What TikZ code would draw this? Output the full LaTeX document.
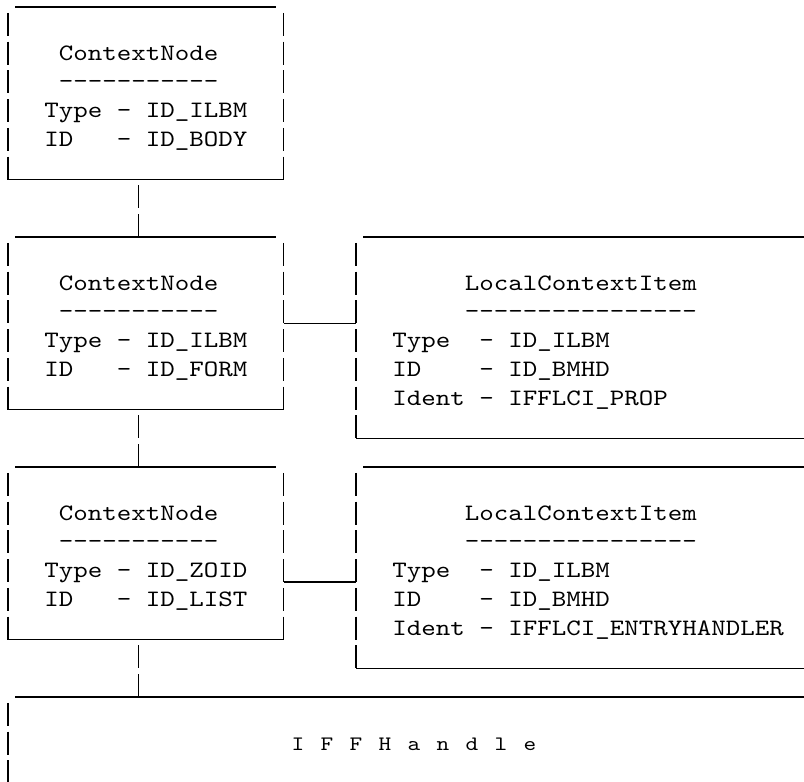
\documentclass[tikz,border=0pt]{standalone}
\usepackage{fontspec}
\setmonofont{lmmono10-regular}[Extension=.otf,FakeStretch=1.1753]
\usetikzlibrary{calc}
\colorlet{ink}{black}
\newcommand\tx[4]{\node[txt] (#1) at ({0.75+14.5*#2},{-(28.75*#3+2.5)}) {#4};}
\newcommand\wide[1]{\makebox[14.5pt][c]{#1}\hspace{14.5pt}}
\begin{document}
\begin{tikzpicture}[x=1pt,y=1pt,
  txt/.style={anchor=base west,inner sep=0pt,outer sep=0pt,text=ink,
    font=\ttfamily\fontsize{23.5pt}{28.75pt}\selectfont},
  small/.style={font=\ttfamily\fontsize{20.5pt}{28.75pt}\selectfont},
  frame/.style={draw=none,inner sep=0pt,outer sep=0pt,anchor=north west},
  hbar/.style={line width=1.1pt,draw=ink},
  vbar/.style={line width=1.1pt,draw=ink,dash pattern=on 23pt off 5.75pt,dash phase=23pt}]
\useasboundingbox (0,0) rectangle (804,-782);

% frames
\node[frame,minimum width=275.5pt,minimum height=172.5pt] (cn1) at (8,-7) {};
\node[frame,minimum width=275.5pt,minimum height=172.5pt] (cn2) at (8,-237) {};
\node[frame,minimum width=275.5pt,minimum height=172.5pt] (cn3) at (8,-467) {};
\node[frame,minimum width=448pt,minimum height=201.25pt] (lc1) at (356,-237) {};
\node[frame,minimum width=448pt,minimum height=201.25pt] (lc2) at (356,-467) {};
\node[frame,minimum width=796pt,minimum height=85pt] (iff) at (8,-697) {};

% ContextNode boxes
\foreach \b in {cn1,cn2,cn3}{
  \draw[hbar] ([xshift=7.25pt]\b.north west) -- ([xshift=-7.25pt]\b.north east);
  \draw[vbar] (\b.north west) -- (\b.south west);
  \draw[vbar] (\b.north east) -- (\b.south east);
  \draw[hbar] (\b.south west) -- (\b.south east);
}
% LocalContextItem boxes
\foreach \b in {lc1,lc2}{
  \draw[hbar] ([xshift=7.25pt]\b.north west) -- (\b.north east);
  \draw[vbar] (\b.north west) -- (\b.south west);
  \draw[hbar] (\b.south west) -- (\b.south east);
}
% IFFHandle box
\draw[hbar] ([xshift=7.25pt]iff.north west) -- (iff.north east);
\draw[vbar] (iff.north west) -- (iff.south west);

% connectors
\draw[vbar] ([xshift=-7.25pt]cn1.south) -- ([xshift=-7.25pt]cn2.north);
\draw[vbar] ([xshift=-7.25pt]cn2.south) -- ([xshift=-7.25pt]cn3.north);
\draw[vbar] ([xshift=-7.25pt]cn3.south) -- ($(cn3.south)+(-7.25,-57.5)$);
\draw[hbar] ([yshift=-86.25pt]cn2.north east) -- ([yshift=-86.25pt]lc1.north west);
\draw[hbar] ([yshift=-115pt]cn3.north east) -- ([yshift=-115pt]lc2.north west);

% texts: ContextNode boxes
\tx{t1a}{4}{2}{ContextNode}
\tx{t1b}{4}{3}{-----------}
\tx{t1c}{3}{4}{Type~-~ID\_ILBM}
\tx{t1d}{3}{5}{ID~~~-~ID\_BODY}
\tx{t2a}{4}{10}{ContextNode}
\tx{t2b}{4}{11}{-----------}
\tx{t2c}{3}{12}{Type~-~ID\_ILBM}
\tx{t2d}{3}{13}{ID~~~-~ID\_FORM}
\tx{t3a}{4}{18}{ContextNode}
\tx{t3b}{4}{19}{-----------}
\tx{t3c}{3}{20}{Type~-~ID\_ZOID}
\tx{t3d}{3}{21}{ID~~~-~ID\_LIST}
% texts: LocalContextItem boxes
\tx{l1a}{32}{10}{LocalContextItem}
\tx{l1b}{32}{11}{----------------}
\tx{l1c}{27}{12}{Type~~-~ID\_ILBM}
\tx{l1d}{27}{13}{ID~~~~-~ID\_BMHD}
\tx{l1e}{27}{14}{Ident~-~IFFLCI\_PROP}
\tx{l2a}{32}{18}{LocalContextItem}
\tx{l2b}{32}{19}{----------------}
\tx{l2c}{27}{20}{Type~~-~ID\_ILBM}
\tx{l2d}{27}{21}{ID~~~~-~ID\_BMHD}
\tx{l2e}{27}{22}{Ident~-~IFFLCI\_ENTRYHANDLER}
% IFFHandle
\node[txt,small] (ih) at ({0.75+14.5*20},{-(28.75*26+2.5)})
  {\wide{I}\wide{F}\wide{F}\wide{H}\wide{a}\wide{n}\wide{d}\wide{l}\makebox[14.5pt][c]{e}};
\end{tikzpicture}
\end{document}
